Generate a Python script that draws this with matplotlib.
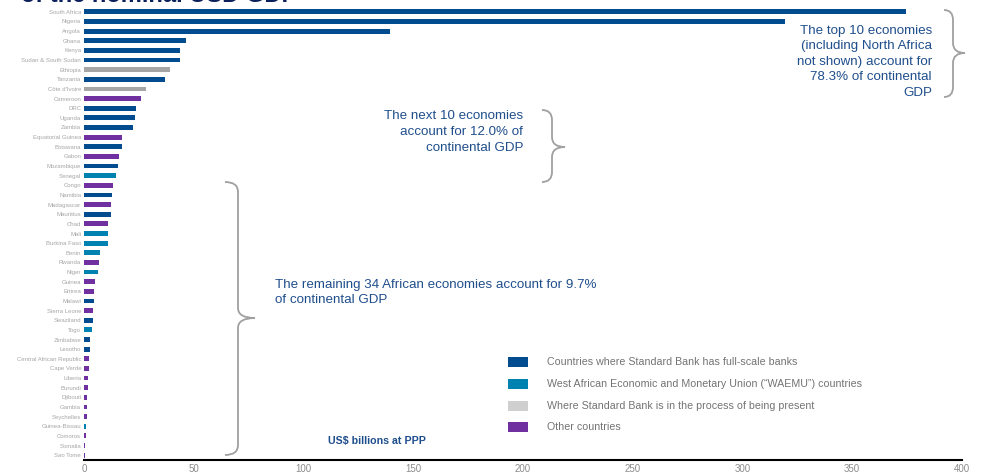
import matplotlib
matplotlib.use("Agg")
import matplotlib.pyplot as plt
from matplotlib.path import Path
from matplotlib.patches import PathPatch, Rectangle

countries = ["South Africa", "Nigeria", "Angola", "Ghana", "Kenya", "Sudan & South Sudan",
             "Ethiopia", "Tanzania", "Côte d'Ivoire", "Cameroon", "DRC", "Uganda", "Zambia",
             "Equatorial Guinea", "Botswana", "Gabon", "Mozambique", "Senegal", "Congo",
             "Namibia", "Madagascar", "Mauritius", "Chad", "Mali", "Burkina Faso", "Benin",
             "Rwanda", "Niger", "Guinea", "Eritrea", "Malawi", "Sierra Leone", "Swaziland",
             "Togo", "Zimbabwe", "Lesotho", "Central African Republic", "Cape Verde", "Liberia",
             "Burundi", "Djibouti", "Gambia", "Seychelles", "Guinea-Bissau", "Comoros",
             "Somalia", "Sao Tome"]
gdp = [374.5, 319.4, 139.4, 46.5, 43.7, 43.7, 39.2, 36.9, 28.2, 26.0, 23.7, 23.2, 22.3,
       17.3, 17.3, 15.9, 15.5, 14.6, 13.2, 12.8, 12.3, 12.3, 10.9, 10.9, 10.9, 7.3,
       6.8, 6.4, 5.0, 4.6, 4.6, 4.1, 4.1, 3.6, 2.7, 2.7, 2.3, 2.3, 1.8,
       1.8, 1.4, 1.4, 1.4, 0.9, 0.9, 0.5, 0.5]
group = ["B", "B", "B", "B", "B", "B", "G", "B", "G", "P", "B", "B", "B",
         "P", "B", "P", "B", "W", "P", "B", "P", "B", "P", "W", "W", "W",
         "P", "W", "P", "P", "B", "P", "B", "W", "B", "B", "P", "P", "P",
         "P", "P", "P", "P", "W", "P", "P", "P"]
legend_labels = ["Countries where Standard Bank has full-scale banks",
                 "West African Economic and Monetary Union (\u201cWAEMU\u201d) countries",
                 "Where Standard Bank is in the process of being present",
                 "Other countries"]
legend_keys = ["B", "W", "L", "P"]
xticks = [0, 50, 100, 150, 200, 250, 300, 350, 400]

colors = {"B": "#004C8F", "W": "#0082B0", "G": "#A6A6A6", "L": "#CFCFCF", "P": "#7030A0"}
txt_blue = "#1F4E8C"

W, H = 985, 474
plt.rcParams['font.family'] = ['Liberation Sans', 'DejaVu Sans']
fig = plt.figure(figsize=(W / 100, H / 100), dpi=100)

def fx(x):
    return x / W

def fy(y):
    return 1 - y / H

ax = fig.add_axes([fx(84), fy(460), (962 - 84) / W, (460 - 7) / H])
ypos = list(range(len(countries)))
ax.barh(ypos, gdp, height=0.5, color=[colors[g] for g in group])
ax.set_ylim(len(countries) - 0.5, -0.5)
ax.set_xlim(0, 400)
ax.set_yticks(ypos)
ax.set_yticklabels(countries, fontsize=4.3, color="#A6A6A6")
ax.set_xticks(xticks)
ax.set_xticklabels([str(t) for t in xticks], fontsize=7, color="#8C8C8C")
ax.tick_params(length=0, pad=3)
ax.tick_params(axis='y', pad=2)
for s in ["top", "right", "left"]:
    ax.spines[s].set_visible(False)
ax.spines["bottom"].set_color("black")
ax.spines["bottom"].set_linewidth(1.5)

# Title, cut off at the top edge as in the reference
fig.text(fx(21), fy(2.5), "of the nominal USD GDP", fontsize=17, fontweight="bold",
         color="#0B1F5C", ha="left", va="baseline")

def brace(x0, xm, xt, ytop, ytip, ybot):
    r = 10
    verts = [(x0, ytop), (xm, ytop), (xm, ytop + r), (xm, ytop + r),
             (xm, ytip - r), (xm, ytip), (xt, ytip), (xm, ytip), (xm, ytip + r),
             (xm, ytip + r), (xm, ybot - r), (xm, ybot - r), (xm, ybot), (x0, ybot)]
    codes = [Path.MOVETO, Path.CURVE3, Path.CURVE3, Path.LINETO,
             Path.LINETO, Path.CURVE3, Path.CURVE3, Path.CURVE3, Path.CURVE3,
             Path.LINETO, Path.LINETO, Path.LINETO, Path.CURVE3, Path.CURVE3]
    verts = [(fx(a), fy(b)) for a, b in verts]
    p = PathPatch(Path(verts, codes), transform=fig.transFigure, fill=False,
                  edgecolor="#A0A0A0", lw=1.3)
    fig.add_artist(p)

brace(944, 953, 965, 10, 53, 97)
brace(542, 552, 565, 110, 147, 182)
brace(225, 238, 255, 182, 318, 455)

fig.text(fx(932), fy(25), "The top 10 economies\n(including North Africa\nnot shown) account for\n78.3% of continental\nGDP",
         fontsize=9.6, color=txt_blue, ha="right", va="top", linespacing=1.38, multialignment="right")
fig.text(fx(523), fy(110), "The next 10 economies\naccount for 12.0% of\ncontinental GDP",
         fontsize=9.6, color=txt_blue, ha="right", va="top", linespacing=1.43, multialignment="right")
fig.text(fx(275), fy(279), "The remaining 34 African economies account for 9.7%\nof continental GDP",
         fontsize=9.6, color=txt_blue, ha="left", va="top", linespacing=1.32)
fig.text(fx(328), fy(441), "US$ billions at PPP", fontsize=7.7, fontweight="bold",
         color=txt_blue, ha="left", va="center")

leg_y = [362, 384, 406, 427]
for lab, key, y in zip(legend_labels, legend_keys, leg_y):
    fig.add_artist(Rectangle((fx(508), fy(y + 5)), 20 / W, 10 / H, transform=fig.transFigure,
                             facecolor=colors[key], edgecolor="none"))
    fig.text(fx(547), fy(y), lab, fontsize=7.7, color="#737373", ha="left", va="center")

fig.savefig("out.png", dpi=100)
